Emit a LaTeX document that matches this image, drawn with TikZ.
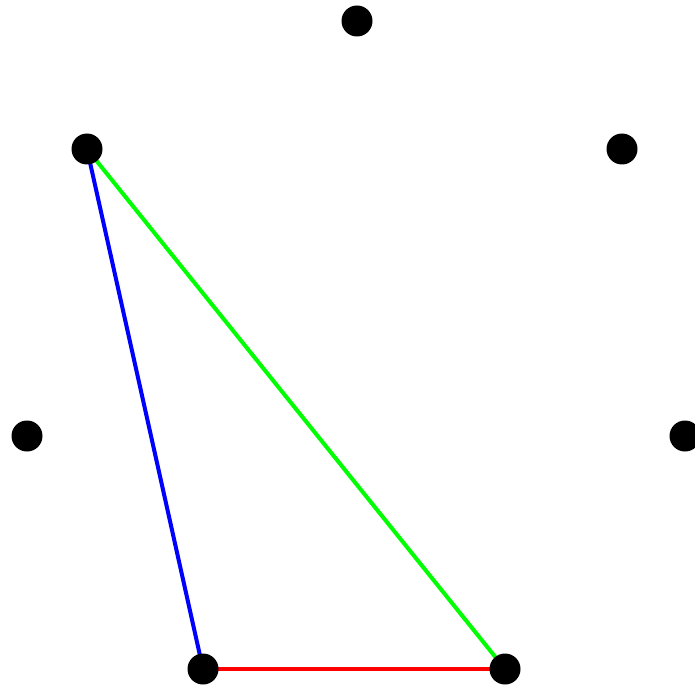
\documentclass[tikz,border=0pt]{standalone}
\begin{document}
\begin{tikzpicture}[x=1pt,y=-1pt,
  dot/.style={circle,fill=black,minimum size=31pt,inner sep=0pt},
  edge/.style={line width=4pt}]
\useasboundingbox (0,0) rectangle (695,687);
\coordinate (p0) at (357,21);
\coordinate (p1) at (622,149);
\coordinate (p2) at (685,436);
\coordinate (p3) at (505,669);
\coordinate (p4) at (203,669);
\coordinate (p5) at (27,436);
\coordinate (p6) at (87,149);
\draw[edge,blue] (p6) -- (p4);
\draw[edge,green] (p6) -- (p3);
\draw[edge,red] (p4) -- (p3);
\foreach \i in {0,...,6} \node[dot] (d\i) at (p\i) {};
\end{tikzpicture}
\end{document}
